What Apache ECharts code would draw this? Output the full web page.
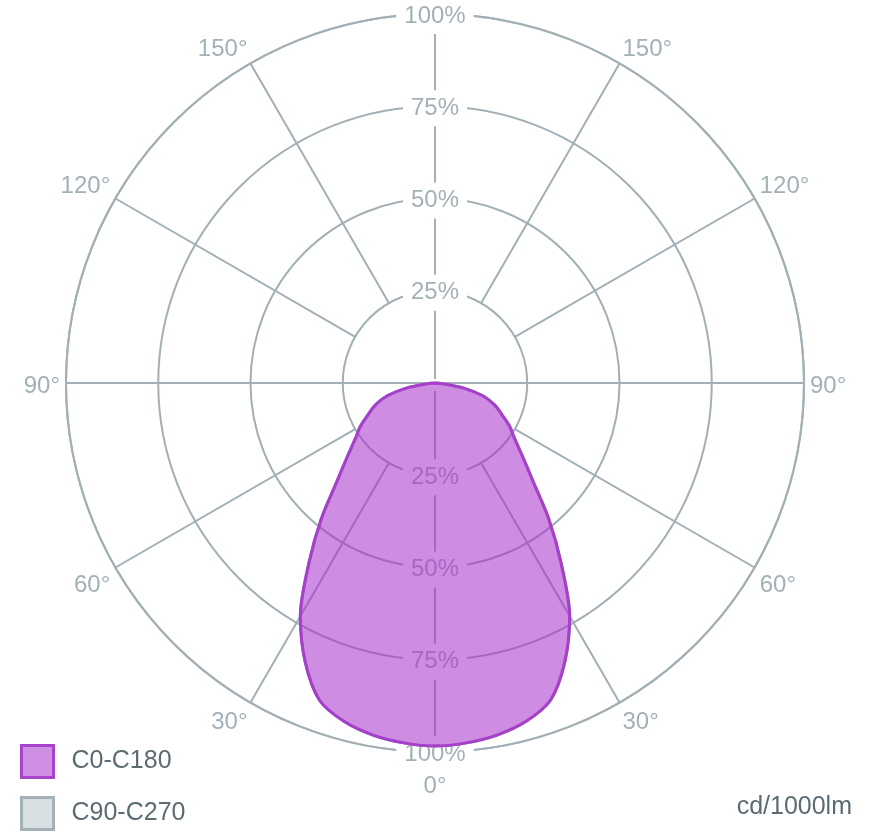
<!DOCTYPE html>
<html>
<head>
<meta charset="utf-8">
<script src="https://cdn.jsdelivr.net/npm/echarts@6/dist/echarts.min.js"></script>
<style>
html,body{margin:0;padding:0;background:#fff;}
#chart{width:870px;height:840px;}
</style>
</head>
<body>
<div id="chart"></div>
<script>
// gamma angles (degrees from nadir) and relative intensities (% of max)
const gamma = [0, 5, 10, 15, 20, 25, 30, 35, 40, 45, 50, 55, 60, 65, 70, 75, 80, 85, 90];
const c0   = [98.4, 97.9, 96.9, 95.0, 91.5, 83.3, 73.0, 59.6, 47.9, 37.5, 31.0, 26.4, 23.3, 19.9, 17.1, 13.4, 7.7, 2.0, 0];
const c180 = [98.4, 97.9, 96.9, 95.0, 91.5, 83.3, 73.0, 59.6, 47.9, 37.5, 31.0, 26.4, 23.3, 19.9, 17.1, 13.4, 7.7, 2.0, 0];
const c90  = [98.4, 97.9, 96.9, 95.0, 91.5, 83.3, 73.0, 59.6, 47.9, 37.5, 31.0, 26.4, 23.3, 19.9, 17.1, 13.4, 7.7, 2.0, 0];
const c270 = [98.4, 97.9, 96.9, 95.0, 91.5, 83.3, 73.0, 59.6, 47.9, 37.5, 31.0, 26.4, 23.3, 19.9, 17.1, 13.4, 7.7, 2.0, 0];
const radialTicks = [25, 50, 75, 100];
const angleTicks = [0, 30, 60, 90, 120, 150];
const seriesNames = ['C0-C180', 'C90-C270'];
const unitLabel = 'cd/1000lm';

function buildPlane(a, b) {
  const pts = [];
  for (let i = gamma.length - 1; i >= 0; i--) pts.push([a[i], gamma[i]]);
  for (let i = 1; i < gamma.length; i++) pts.push([b[i], 360 - gamma[i]]);
  return pts;
}

const GRID = '#a2b0b6';
const LABEL = '#a3b1b7';
const TEXT = '#5b6b72';
const FONT = '"Liberation Sans", Arial, sans-serif';
const CENTER = [435, 383];
const R = 369;

const chart = echarts.init(document.getElementById('chart'), null, {renderer: 'canvas'});

const radialLabel = {
  show: true,
  margin: 0,
  align: 'center',
  verticalAlign: 'middle',
  color: LABEL,
  fontSize: 24,
  fontFamily: FONT,
  backgroundColor: '#fff',
  padding: [6, 8, 6, 8],
  formatter: v => radialTicks.indexOf(v) >= 0 ? v + '%' : ''
};

const hidden = {axisLine: {show: false}, axisTick: {show: false}, axisLabel: {show: false}, splitLine: {show: false}};

const option = {
  backgroundColor: '#fff',
  animation: false,
  polar: [
    {center: CENTER, radius: [0, R]},
    {center: CENTER, radius: [R * 0.25, R]},
    {center: [CENTER[0], CENTER[1] + 2], radius: [0, R]},
    {center: [CENTER[0], CENTER[1] + 2], radius: [0, R]},
    {center: [CENTER[0], CENTER[1] + 3], radius: [0, R]}
  ],
  angleAxis: [
    {polarIndex: 0, type: 'value', min: 0, max: 360, interval: 90, startAngle: 270, z: 0,
      axisLine: {show: true, lineStyle: {color: GRID, width: 2}},
      axisTick: {show: false}, axisLabel: {show: false},
      splitLine: {show: true, lineStyle: {color: GRID, width: 2}}},
    {polarIndex: 1, type: 'value', min: 0, max: 360, interval: 30, startAngle: 270, z: 0,
      axisLine: {show: false}, axisTick: {show: false}, axisLabel: {show: false},
      splitLine: {show: true, lineStyle: {color: GRID, width: 2}}},
    Object.assign({polarIndex: 2, type: 'value', min: 0, max: 360, startAngle: 270}, hidden),
    Object.assign({polarIndex: 3, type: 'value', min: 0, max: 360, startAngle: 90}, hidden),
    {polarIndex: 4, type: 'value', min: 0, max: 360, interval: 30, startAngle: 270, z: 0,
      axisLine: {show: false}, axisTick: {show: false}, splitLine: {show: false},
      axisLabel: {show: true, margin: 6, color: LABEL, fontSize: 24, fontFamily: FONT,
        formatter: v => {
          const d = v <= 180 ? v : 360 - v;
          if (v >= 360 || angleTicks.indexOf(d) < 0) return '';
          return d === 0 ? '{z|0°}' : d + '°';
        },
        rich: {z: {padding: [13, 0, 0, 0], color: LABEL, fontSize: 24, fontFamily: FONT}}
      }}
  ],
  radiusAxis: [
    {polarIndex: 0, type: 'value', min: 0, max: 100, interval: 25, z: 0,
      axisLine: {show: false}, axisTick: {show: false}, axisLabel: {show: false},
      splitLine: {show: true, lineStyle: {color: GRID, width: 2}}},
    Object.assign({polarIndex: 1, type: 'value', min: 25, max: 100}, hidden),
    {polarIndex: 2, type: 'value', min: 0, max: 100, interval: 25, z: 1,
      axisLine: {show: false}, axisTick: {show: false}, splitLine: {show: false},
      axisLabel: radialLabel},
    {polarIndex: 3, type: 'value', min: 0, max: 100, interval: 25, z: 1,
      axisLine: {show: false}, axisTick: {show: false}, splitLine: {show: false},
      axisLabel: radialLabel},
    Object.assign({polarIndex: 4, type: 'value', min: 0, max: 100}, hidden)
  ],
  title: {
    text: unitLabel, right: 18, top: 795, padding: 0,
    textStyle: {color: TEXT, fontSize: 25, fontWeight: 'normal', fontFamily: FONT}
  },
  legend: {
    orient: 'vertical', left: 20, top: 744, padding: 0,
    itemWidth: 32, itemHeight: 32, itemGap: 17,
    textStyle: {color: TEXT, fontSize: 25, fontFamily: FONT, padding: [0, 0, 0, 13]},
    selectedMode: false,
    data: [
      {name: seriesNames[0], icon: 'rect', itemStyle: {color: '#cf8fe3', borderColor: '#a844cc', borderWidth: 3}},
      {name: seriesNames[1], icon: 'rect', itemStyle: {color: '#d8dfe2', borderColor: '#a4b2b8', borderWidth: 3}}
    ]
  },
  series: [
    {name: seriesNames[1], type: 'line', coordinateSystem: 'polar', polarIndex: 0, z: 2,
      data: buildPlane(c90, c270), symbol: 'none', smooth: 0.3,
      lineStyle: {color: GRID, width: 3}, itemStyle: {color: '#d8dfe2'}},
    {name: seriesNames[0], type: 'line', coordinateSystem: 'polar', polarIndex: 0, z: 3,
      data: buildPlane(c0, c180), symbol: 'none', smooth: 0.3,
      lineStyle: {color: '#a53fcc', width: 3}, itemStyle: {color: '#cf8fe3'},
      areaStyle: {color: 'rgba(166,46,202,0.55)', opacity: 1}}
  ]
};
chart.setOption(option);
</script>
</body>
</html>
